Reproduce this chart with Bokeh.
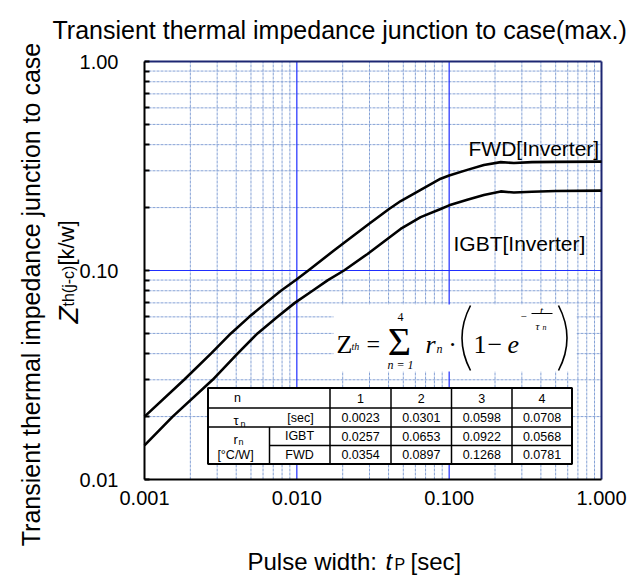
import math
from bokeh.plotting import figure
from bokeh.models import FixedTicker, NumeralTickFormatter, Label, ColumnDataSource
from bokeh.core.properties import value
from bokeh.embed import file_html
from bokeh.resources import INLINE

# ---------------- data ----------------
fwd_t = [0.001, 0.00182, 0.00273, 0.00369, 0.00487, 0.00627, 0.00786, 0.00985, 0.0119,
         0.0176, 0.0291, 0.0403, 0.0481, 0.065, 0.0879, 0.100, 0.1315, 0.169, 0.218,
         0.266, 0.35, 0.5, 1.0]
fwd_z = [0.0200, 0.030, 0.040, 0.050, 0.060, 0.070, 0.080, 0.090, 0.100,
         0.125, 0.165, 0.197, 0.215, 0.243, 0.275, 0.285, 0.303, 0.320, 0.330,
         0.327, 0.330, 0.331, 0.332]
igbt_t = [0.001, 0.00153, 0.0028, 0.00408, 0.00552, 0.00747, 0.0097, 0.01268, 0.0160,
          0.0204, 0.0291, 0.048, 0.065, 0.0879, 0.100, 0.1315, 0.169, 0.218, 0.266,
          0.35, 0.5, 1.0]
igbt_z = [0.01455, 0.020, 0.030, 0.040, 0.050, 0.060, 0.070, 0.080, 0.090,
          0.100, 0.120, 0.158, 0.180, 0.197, 0.205, 0.218, 0.230, 0.239, 0.236,
          0.238, 0.240, 0.241]

series_names = ["FWD[Inverter]", "IGBT[Inverter]"]

x_major = [0.001, 0.01, 0.1, 1.0]
x_minor = [m * d for d in (0.001, 0.01, 0.1) for m in range(2, 10)]
y_major = [0.01, 0.1, 1.0]
y_minor = [m * d for d in (0.01, 0.1) for m in range(2, 10)]

table_n = ["1", "2", "3", "4"]
table_tau = ["0.0023", "0.0301", "0.0598", "0.0708"]
table_r_igbt = ["0.0257", "0.0653", "0.0922", "0.0568"]
table_r_fwd = ["0.0354", "0.0897", "0.1268", "0.0781"]

title_text = "Transient thermal impedance junction to case(max.)"
ylabel_text = "Transient thermal impedance junction to case"

# ---------------- layout helpers (page pixels -> data) ----------------
W, H = 630, 582
FL, FR, FT, FB = 144.0, 601.0, 61.0, 479.0
XMIN, XMAX, YMIN, YMAX = x_major[0], x_major[-1], y_major[0], y_major[-1]


def X(px):
    return 10 ** (math.log10(XMIN) + math.log10(XMAX / XMIN) * (px - FL) / (FR - FL))


def Y(py):
    return 10 ** (math.log10(YMAX) - math.log10(YMAX / YMIN) * (py - FT) / (FB - FT))


p = figure(width=W, height=H, x_axis_type="log", y_axis_type="log",
           x_range=(X(0), X(W)), y_range=(Y(H), Y(0)),
           min_border_left=0, min_border_right=0, min_border_top=0, min_border_bottom=0,
           output_backend="svg", toolbar_location=None, title=None)
p.background_fill_color = "white"
p.border_fill_color = "white"
p.outline_line_color = None
p.xgrid.visible = False
p.ygrid.visible = False

# ---------------- grid lines (from the tick values) ----------------
GRID_MINOR = "#86a2d6"
GRID_MAJOR = "#1f2dff"
p.segment(x0=x_minor, x1=x_minor, y0=[YMIN] * len(x_minor), y1=[YMAX] * len(x_minor),
          line_color=GRID_MINOR, line_width=1, line_dash="3 1")
p.segment(x0=[XMIN] * len(y_minor), x1=[XMAX] * len(y_minor), y0=y_minor, y1=y_minor,
          line_color=GRID_MINOR, line_width=1, line_dash="3 1")
xm_in = x_major[1:-1]
ym_in = y_major[1:-1]
p.segment(x0=xm_in, x1=xm_in, y0=[YMIN] * len(xm_in), y1=[YMAX] * len(xm_in),
          line_color=GRID_MAJOR, line_width=1.2)
p.segment(x0=[XMIN] * len(ym_in), x1=[XMAX] * len(ym_in), y0=ym_in, y1=ym_in,
          line_color=GRID_MAJOR, line_width=1.2)
# plot border (top / right in navy)
p.segment(x0=[XMIN, XMAX], x1=[XMAX, XMAX], y0=[YMAX, YMIN], y1=[YMAX, YMAX],
          line_color="#1c2672", line_width=2)

# ---------------- axes (drawn at the plot-area edges) ----------------
p.xaxis.fixed_location = YMIN
p.yaxis.fixed_location = XMIN
p.xaxis.bounds = (XMIN, XMAX)
p.yaxis.bounds = (YMIN, YMAX)
p.xaxis.ticker = FixedTicker(ticks=x_major, minor_ticks=x_minor)
p.yaxis.ticker = FixedTicker(ticks=y_major, minor_ticks=y_minor)
p.xaxis.formatter = NumeralTickFormatter(format="0.000")
p.yaxis.formatter = NumeralTickFormatter(format="0.00")
for ax in (p.xaxis, p.yaxis):
    ax.axis_line_color = "black"
    ax.axis_line_width = 2
    ax.major_label_text_font = "Liberation Sans"
    ax.major_label_text_font_size = "20px"
    ax.major_label_text_color = "black"
    ax.major_tick_out = 0
    ax.minor_tick_out = 0
p.xaxis.major_tick_in = 0
p.xaxis.minor_tick_in = 0
p.xaxis.major_label_standoff = 11
p.yaxis.major_tick_in = 5
p.yaxis.minor_tick_in = 5
p.yaxis.major_tick_line_width = 2
p.yaxis.minor_tick_line_width = 2
p.yaxis.major_label_standoff = 26

# white panel behind the formula
p.quad(left=[X(333)], right=[X(576)], top=[Y(304)], bottom=[Y(371)],
       fill_color="white", line_color=None)

# curves
p.line(fwd_t, fwd_z, line_color="black", line_width=2.6, line_join="round")
p.line(igbt_t, igbt_z, line_color="black", line_width=2.6, line_join="round")


def lab(text, px, py, size, font="Liberation Sans", style="normal", align="left",
        baseline="alphabetic", angle=0.0):
    p.add_layout(Label(x=X(px), y=Y(py), text=text, text_font=font,
                       text_font_size=f"{size}px", text_font_style=style,
                       text_align=align, text_baseline=baseline, angle=angle,
                       text_color="black"))


# series labels
lab(series_names[0], 468, 148, 21)
lab(series_names[1], 453, 243, 21)

# ---------------- table ----------------
tl, tr, tt, tb = 207.5, 571.5, 387.5, 463.5
rows = [407.5, 426.5, 445.0]
cols = [269.0, 329.5, 390.5, 451.0, 511.5]
p.quad(left=[X(tl)], right=[X(tr)], top=[Y(tt)], bottom=[Y(tb)],
       fill_color="white", line_color="black", line_width=2)
seg_x0 = [X(tl), X(tl), X(cols[0])] + [X(cols[0])] + [X(c) for c in cols[1:]]
seg_x1 = [X(tr), X(tr), X(tr)] + [X(cols[0])] + [X(c) for c in cols[1:]]
seg_y0 = [Y(rows[0]), Y(rows[1]), Y(rows[2])] + [Y(rows[1])] + [Y(tt)] * 4
seg_y1 = [Y(rows[0]), Y(rows[1]), Y(rows[2])] + [Y(tb)] + [Y(tb)] * 4
p.segment(x0=seg_x0, y0=seg_y0, x1=seg_x1, y1=seg_y1, line_color="black", line_width=1.5)

row_c = [397.5, 417.0, 435.8, 454.3]
col_c = [(cols[i] + cols[i + 1]) / 2 for i in range(1, 4)] + [(cols[4] + tr) / 2]
tx, ty, tt_ = [], [], []
for vals, rc in ((table_n, row_c[0]), (table_tau, row_c[1]),
                 (table_r_igbt, row_c[2]), (table_r_fwd, row_c[3])):
    for v, cc in zip(vals, col_c):
        tx.append(X(cc)); ty.append(Y(rc)); tt_.append(v)
for txt, cx, rc in (("n", 237, row_c[0]), ("[sec]", 300, row_c[1]), ("IGBT", 299, row_c[2]),
                    ("FWD", 299, row_c[3]), ("[°C/W]", 235, row_c[3])):
    tx.append(X(cx)); ty.append(Y(rc)); tt_.append(txt)
src = ColumnDataSource(dict(x=tx, y=ty, text=tt_))
p.text(x="x", y="y", text="text", source=src, text_font=value("Liberation Sans"),
       text_font_size="12.5px", text_align="center", text_baseline="middle", text_color="black")
lab("τ", 233, 420, 13)
lab("n", 240, 423, 9)
lab("r", 233, 438.5, 13)
lab("n", 238, 441, 9)

# ---------------- formula ----------------
SER = "Liberation Serif"
lab("Z", 336, 344, 26, SER)
lab("th", 351, 346, 10, SER, "italic")
lab("=", 366, 343, 24, SER)
lab("Σ", 399, 341, 40, SER, align="center")
lab("4", 400, 316, 12, SER, align="center")
lab("n = 1", 400, 364, 12, SER, "italic", align="center")
lab("r", 425, 344, 26, SER, "italic")
lab("n", 436, 348, 12, SER, "italic")
lab("·", 452, 344, 26, SER, align="center")
lab("1", 473, 344, 26, SER)
lab("−", 487, 344, 26, SER)
lab("e", 507, 344, 26, SER, "italic")
lab("−", 520, 316, 11, SER)
lab("t", 541, 309, 11, SER, "italic", align="center")
lab("τ", 535, 325, 11, SER, "italic")
lab("n", 542, 327, 8, SER, "italic")
p.segment(x0=[X(531)], y0=[Y(313)], x1=[X(552)], y1=[Y(313)], line_color="black", line_width=1)
p.quadratic(x0=[X(470), X(558)], y0=[Y(305), Y(305)], x1=[X(470), X(558)], y1=[Y(370), Y(370)],
            cx=[X(453), X(575)], cy=[Y(337.5), Y(337.5)], line_color="black", line_width=1.6)

# ---------------- titles ----------------
lab(title_text, 52, 29, 25)
lab(ylabel_text, 30, 294, 25, align="center", angle=math.pi / 2)
lab("Z", 68, 323, 28, style="italic", angle=math.pi / 2)
lab("th(j-c)", 68, 306, 16, angle=math.pi / 2)
lab("[k/w]", 66, 265, 22, angle=math.pi / 2)
lab("Pulse width:", 247, 561, 24)
lab("t", 385, 561, 24, style="italic")
lab("P", 394, 564, 16)
lab("[sec]", 410, 561, 24)

open("out.html", "w").write(file_html(p, INLINE))
